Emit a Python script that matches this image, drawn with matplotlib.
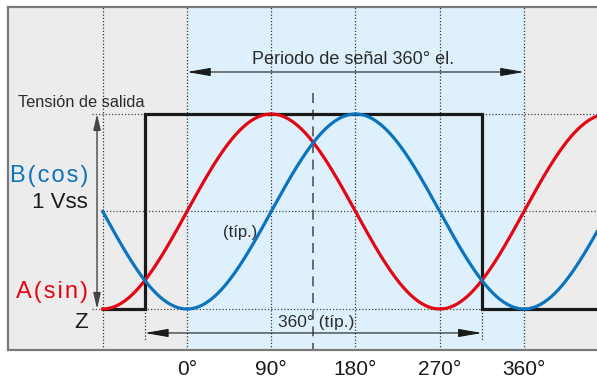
import matplotlib.pyplot as plt
import numpy as np

# Winkel der Gitterlinien / Achsenbeschriftung
tick_deg = [0, 90, 180, 270, 360]
tick_labels = ['0°', '90°', '180°', '270°', '360°']
grid_deg = [-90, 0, 90, 180, 270, 360]

# Signale: A = sin, B = -cos, Z = Rechteck
theta_start, theta_end = -90, 438
z_edges = [-45, 315]          # Flanken des Z-Signals
z_x = [-90, -45, -45, 315, 315, 438]
z_y = [0, 0, 1, 1, 0, 0]
dash_deg = 135                # gestrichelte Linie

red = '#e30613'
blue = '#0a74be'
txt = '#2b2b2b'

plt.rcParams['font.family'] = ['Liberation Sans', 'DejaVu Sans']

fig = plt.figure(figsize=(5.97, 3.81), dpi=100)
ax = fig.add_axes([8 / 597, 31 / 381, 589 / 597, 343 / 381])
ax.set_xlim(-191.2, 438.0)
ax.set_ylim(-0.2103, 1.5487)
ax.set_facecolor('#ececec')
ax.axvspan(0, 360, color='#def0fb', zorder=0)

for s in ['left', 'top', 'bottom']:
    ax.spines[s].set_color('#7a7a7a')
    ax.spines[s].set_linewidth(1.6)
ax.spines['right'].set_visible(False)

# Gitter
for d in grid_deg:
    ax.axvline(d, color='#333333', ls=(0, (1, 1.6)), lw=0.9, zorder=1)
ax.plot([-101, 438], [1, 1], color='#444444', ls=(0, (1, 1.6)), lw=0.9, zorder=1)
ax.plot([-90, 438], [0.5, 0.5], color='#444444', ls=(0, (1, 1.6)), lw=0.9, zorder=1)
ax.plot([-101, 438], [0, 0], color='#444444', ls=(0, (1, 1.6)), lw=0.9, zorder=1)
for d in z_edges:
    ax.plot([d, d], [0, -0.159], color='#333333', ls=(0, (1, 1.6)), lw=0.9, zorder=1)

ax.plot([dash_deg, dash_deg], [1.108, -0.2103], color='#555555',
        ls=(0, (6, 4)), lw=1.2, zorder=1)

# Kurven
th = np.linspace(theta_start, theta_end, 600)
ax.plot(z_x, z_y, color='#1a1a1a', lw=2.3, zorder=3, solid_joinstyle='miter')
ax.plot(th, (1 + np.sin(np.radians(th))) / 2, color=red, lw=2.3, zorder=4)
ax.plot(th, (1 - np.cos(np.radians(th))) / 2, color=blue, lw=2.3, zorder=5)

# Pfeile
arr = dict(arrowstyle='<|-|>,head_length=0.8,head_width=0.14', color='#1a1a1a',
           lw=0.8, shrinkA=0, shrinkB=0, mutation_scale=18)
ax.annotate('', xy=(0, 1.2154), xytext=(360, 1.2154), arrowprops=arr)
ax.annotate('', xy=(-45, -0.123), xytext=(315, -0.123), arrowprops=arr)
varr = dict(arrowstyle='<|-|>,head_length=0.6,head_width=0.14', color='#444444',
            lw=1.0, shrinkA=0, shrinkB=0, mutation_scale=16)
ax.annotate('', xy=(-96.1, 1.0), xytext=(-96.1, 0.0), arrowprops=varr)

# Texte
hs = '\u200a'
ax.text(177.3, 1.277, 'Periodo de señal 360° el.', ha='center', va='center',
        fontsize=13, color=txt)
ax.text(137.8, -0.067, '360° (típ.)', ha='center', va='center', fontsize=12.5,
        color=txt, zorder=6)
ax.text(56.6, 0.39, '(típ.)', ha='center', va='center', fontsize=12, color=txt)
ax.text(-180.5, 1.0615, 'Tensión de salida', ha='left', va='center',
        fontsize=11.8, color=txt)
ax.text(-105.8, 0.682, hs.join('B(cos)'), ha='right', va='center', fontsize=17, color=blue)
ax.text(-105.8, 0.544, '1 Vss', ha='right', va='center', fontsize=16, color='#1a1a1a')
ax.text(-105.8, 0.087, hs.join('A(sin)'), ha='right', va='center', fontsize=17, color=red)
ax.text(-105.8, -0.067, 'Z', ha='right', va='center', fontsize=16, color='#1a1a1a')

ax.set_yticks([])
ax.set_xticks(tick_deg, tick_labels)
ax.tick_params(axis='x', length=0, pad=7, labelsize=15, labelcolor='#1a1a1a')

fig.savefig('out.png', dpi=100)
